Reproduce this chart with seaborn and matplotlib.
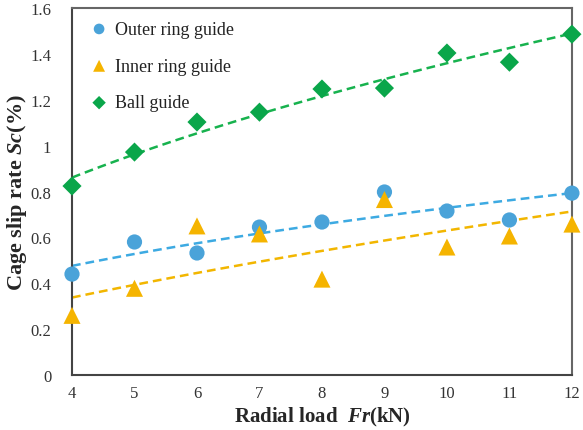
import numpy as np
import pandas as pd
import matplotlib
matplotlib.use("Agg")
import matplotlib.pyplot as plt
import seaborn as sns

load_kn = [4, 5, 6, 7, 8, 9, 10, 11, 12]
outer_ring = [0.44, 0.58, 0.532, 0.645, 0.667, 0.798, 0.715, 0.676, 0.793]
inner_ring = [0.26, 0.378, 0.65, 0.615, 0.418, 0.765, 0.558, 0.606, 0.658]
ball_guide = [0.824, 0.972, 1.103, 1.146, 1.247, 1.251, 1.404, 1.364, 1.486]
series_names = ["Outer ring guide", "Inner ring guide", "Ball guide"]
x_ticks = [4, 5, 6, 7, 8, 9, 10, 11, 12]
y_ticks = [0, 0.2, 0.4, 0.6, 0.8, 1.0, 1.2, 1.4, 1.6]
y_tick_labels = ["0", "0.2", "0.4", "0.6", "0.8", "1", "1.2", "1.4", "1.6"]

sns.set_style("white")
plt.rcParams["font.family"] = ["Liberation Serif", "DejaVu Serif"]
plt.rcParams["mathtext.fontset"] = "custom"
plt.rcParams["mathtext.rm"] = "Liberation Serif"
plt.rcParams["mathtext.it"] = "Liberation Serif:italic"
plt.rcParams["mathtext.bf"] = "Liberation Serif:bold"
plt.rcParams["mathtext.bfit"] = "Liberation Serif:bold:italic"

fig = plt.figure(figsize=(5.83, 4.31), dpi=100)
ax = fig.add_axes([0.1235, 0.1276, 0.8575, 0.8514])

colors = ["#4AA3D9", "#F5B400", "#0AA64A"]
line_colors = ["#3DAAE2", "#F2B600", "#17B24E"]
markers = ["o", "^", "D"]
sizes = [120, 150, 95]
data = [outer_ring, inner_ring, ball_guide]

xs = np.array(load_kn, dtype=float)
xfit = np.linspace(4, 12, 100)
for name, vals, c, lc, m, s in zip(series_names, data, colors, line_colors, markers, sizes):
    b, a = np.polyfit(np.log(xs), np.log(vals), 1)
    yfit = np.exp(a) * xfit ** b
    sns.lineplot(x=xfit, y=yfit, ax=ax, color=lc, linestyle=(0, (3.5, 2)), linewidth=1.8, legend=False, zorder=2)
    sns.scatterplot(x=load_kn, y=vals, ax=ax, marker=m, color=c, s=s, edgecolor="none",
                    label=name, zorder=3, clip_on=False)

ax.set_xlim(4, 12)
ax.set_ylim(0, 1.6)
ax.set_xticks(x_ticks)
ax.set_yticks(y_ticks)
ax.set_yticklabels(y_tick_labels)
ax.tick_params(direction="in", length=4, width=1.0, labelsize=12, colors="#333333")
ax.tick_params(axis="x", pad=7)
ax.tick_params(axis="y", pad=15)
for lab in ax.get_xticklabels() + ax.get_yticklabels():
    lab.set_color("#333333")

for side in ["left", "bottom"]:
    ax.spines[side].set_color("#444444")
    ax.spines[side].set_linewidth(1.5)
for side in ["top", "right"]:
    ax.spines[side].set_color("#666666")
    ax.spines[side].set_linewidth(1.5)

ax.set_xlabel(r"Radial load  $\mathbfit{Fr}$(kN)", fontsize=15, fontweight="bold", labelpad=3)
ax.set_ylabel(r"Cage slip rate $\mathbfit{Sc}$(%)", fontsize=16, fontweight="bold", labelpad=1)

leg = ax.legend(loc="upper left", frameon=False, fontsize=13, labelspacing=1.1,
                handletextpad=0.1, handlelength=1.6, markerscale=0.7,
                bbox_to_anchor=(0.0, 1.0), borderaxespad=0.3)
for t in leg.get_texts():
    t.set_color("#222222")

fig.savefig("out.png", dpi=100)
